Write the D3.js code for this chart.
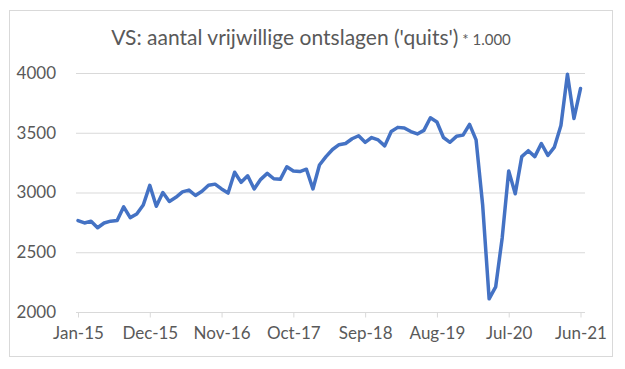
<!DOCTYPE html>
<html>
<head>
<meta charset="utf-8">
<script src="https://cdn.jsdelivr.net/npm/d3@7"></script>
<style>
  body { margin: 0; background: #fff; }
  text { font-family: Lato, "Open Sans", sans-serif; }
</style>
</head>
<body>
<div id="chart"></div>
<script>
// quits per month, Jan-15 .. Jun-21 (x 1.000)
const quits = [
  2765, 2745, 2760, 2705, 2745, 2760, 2765, 2880, 2790, 2820, 2895, 3060,
  2885, 3000, 2925, 2960, 3005, 3020, 2975, 3010, 3060, 3070, 3030, 2995,
  3170, 3085, 3140, 3030, 3110, 3160, 3115, 3110, 3215, 3180, 3175, 3195,
  3030, 3230, 3300, 3360, 3400, 3410, 3450, 3475, 3420, 3460, 3440, 3390,
  3510, 3545, 3540, 3510, 3490, 3520, 3625, 3590, 3460, 3420, 3470, 3480,
  3570, 3440, 2900, 2110, 2210, 2620, 3180, 2990, 3300, 3350, 3300, 3410,
  3310, 3380, 3560, 3990, 3620, 3870
];
const xTickLabels = ["Jan-15", "Dec-15", "Nov-16", "Oct-17", "Sep-18", "Aug-19", "Jul-20", "Jun-21"];
const yTicks = [2000, 2500, 3000, 3500, 4000];

const fmt = d3.timeFormat("%b-%y");
const months = d3.timeMonth.range(new Date(2015, 0, 1), new Date(2021, 6, 1)).map(fmt);

const W = 625, H = 369;
const svg = d3.select("#chart").append("svg")
  .attr("width", W)
  .attr("height", H);

// chart frame
svg.append("rect")
  .attr("x", 9.5).attr("y", 10.5)
  .attr("width", 603).attr("height", 346)
  .attr("fill", "#fff")
  .attr("stroke", "#d9d9d9");

const x = d3.scalePoint().domain(months).range([78, 580.5]);
const y = d3.scaleLinear().domain([2000, 4000]).range([312, 73]);

// gridlines
svg.append("g")
  .selectAll("line")
  .data(yTicks.slice(1))
  .join("line")
  .attr("x1", 76).attr("x2", 585)
  .attr("y1", d => y(d) + 0.5).attr("y2", d => y(d) + 0.5)
  .attr("stroke", "#d9d9d9");

// y labels
const yAxis = svg.append("g")
  .attr("transform", "translate(56,0)")
  .call(d3.axisLeft(y).tickValues(yTicks).tickFormat(d3.format("d")).tickSize(0).tickPadding(0));
yAxis.select(".domain").remove();
yAxis.selectAll("text")
  .attr("fill", "#595959")
  .style("font-size", "17px");

// x axis
const xAxis = svg.append("g")
  .attr("transform", "translate(0," + (y(2000) + 0.5) + ")")
  .call(d3.axisBottom(x).tickValues(xTickLabels).tickSize(5).tickPadding(9));
xAxis.select(".domain")
  .attr("d", "M76,0H585")
  .attr("stroke", "#d9d9d9");
xAxis.selectAll(".tick line").attr("stroke", "#d9d9d9");
xAxis.selectAll("text")
  .attr("fill", "#595959")
  .style("font-size", "17px");

// line
const line = d3.line()
  .x((d, i) => x(months[i]))
  .y(d => y(d));

svg.append("path")
  .datum(quits)
  .attr("d", line)
  .attr("fill", "none")
  .attr("stroke", "#4472c4")
  .attr("stroke-width", 3.5)
  .attr("stroke-linejoin", "round")
  .attr("stroke-linecap", "round");

// title
const title = svg.append("text")
  .attr("x", 311)
  .attr("y", 45)
  .attr("text-anchor", "middle")
  .attr("fill", "#595959");
title.append("tspan")
  .style("font-size", "21px")
  .text("VS: aantal vrijwillige ontslagen ('quits')");
title.append("tspan")
  .style("font-size", "15px")
  .text(" * 1.000");
</script>
</body>
</html>
